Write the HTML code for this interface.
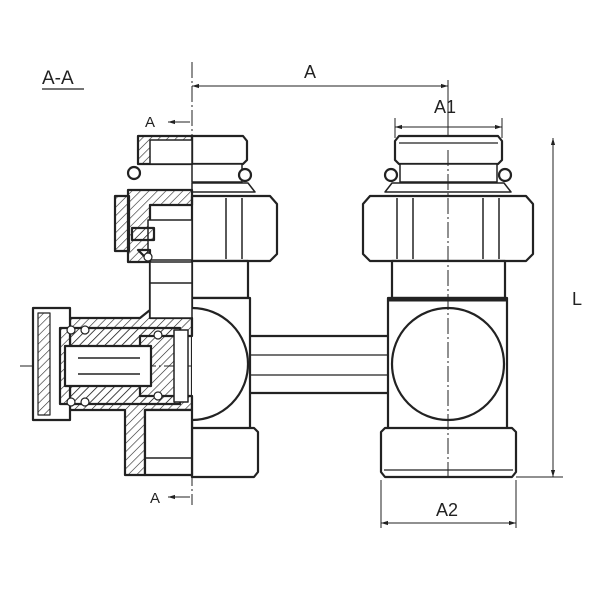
<!DOCTYPE html>
<html><head><style>html,body{margin:0;background:#fff}svg{display:block}text{font-family:"Liberation Sans",sans-serif;fill:#222}</style></head>
<body>
<svg width="600" height="600" viewBox="0 0 600 600" xmlns="http://www.w3.org/2000/svg">
<defs>
<pattern id="h" width="6" height="6" patternUnits="userSpaceOnUse" patternTransform="rotate(45)"><line x1="0" y1="0" x2="0" y2="6" stroke="#222" stroke-width="1.2"/></pattern>
<marker id="ar" viewBox="0 0 10 10" refX="10" refY="5" markerWidth="7" markerHeight="7" orient="auto-start-reverse"><path d="M0,2 L10,5 L0,8z" fill="#222"/></marker>
</defs>
<rect width="600" height="600" fill="#fff"/>
<text x="42" y="84" font-size="19">A-A</text>
<line x1="42" y1="89" x2="84" y2="89" stroke="#222" stroke-width="1.2"/>
<text x="304" y="78" font-size="18">A</text>
<text x="434" y="113" font-size="18">A1</text>
<text x="572" y="305" font-size="18">L</text>
<text x="436" y="516" font-size="18">A2</text>
<text x="145" y="127" font-size="15">A</text>
<text x="150" y="503" font-size="15">A</text>
<g stroke="#222" stroke-width="1" fill="none">
<line x1="192" y1="62" x2="192" y2="505" stroke-dasharray="16,3,2,3"/>
<line x1="192" y1="86" x2="448" y2="86" marker-start="url(#ar)" marker-end="url(#ar)"/>
<line x1="448" y1="80" x2="448" y2="150"/>
<line x1="395" y1="127" x2="502" y2="127" marker-start="url(#ar)" marker-end="url(#ar)"/>
<line x1="395" y1="118" x2="395" y2="138"/><line x1="502" y1="118" x2="502" y2="138"/>
<line x1="553" y1="138" x2="553" y2="477" marker-start="url(#ar)" marker-end="url(#ar)"/>
<line x1="516" y1="477" x2="563" y2="477"/>
<line x1="381" y1="523" x2="516" y2="523" marker-start="url(#ar)" marker-end="url(#ar)"/>
<line x1="381" y1="480" x2="381" y2="528"/><line x1="516" y1="480" x2="516" y2="528"/>
<line x1="168" y1="122" x2="190" y2="122" marker-start="url(#ar)"/>
<line x1="168" y1="497" x2="190" y2="497" marker-start="url(#ar)"/>
<line x1="20" y1="366" x2="192" y2="366" stroke-dasharray="16,3,2,3"/>
</g>
<g stroke="#222" stroke-width="2.2" fill="#fff" stroke-linejoin="round">
<rect x="246" y="336" width="146" height="57"/>
<line x1="246" y1="355" x2="392" y2="355" stroke-width="1.2"/><line x1="246" y1="375" x2="392" y2="375" stroke-width="1.2"/>
<path d="M399,136 H498 L502,141 V160 L498,164 H399 L395,160 V141Z"/>
<line x1="399" y1="143" x2="498" y2="143" stroke-width="1.2"/>
<rect x="400" y="164" width="97" height="18" stroke-width="1.5"/>
<circle cx="391" cy="175" r="6"/><circle cx="505" cy="175" r="6"/>
<path d="M385,192 L392,183 H504 L511,192Z" stroke-width="1.5"/>
<path d="M370,196 H526 L533,204 V254 L526,261 H370 L363,254 V204Z"/>
<line x1="397" y1="198" x2="397" y2="259" stroke-width="1.5"/><line x1="413" y1="198" x2="413" y2="259" stroke-width="1.5"/>
<line x1="483" y1="198" x2="483" y2="259" stroke-width="1.5"/><line x1="499" y1="198" x2="499" y2="259" stroke-width="1.5"/>
<rect x="392" y="261" width="113" height="37"/>
<rect x="388" y="298" width="119" height="131"/>
<line x1="388" y1="300" x2="507" y2="300" stroke-width="3"/>
<circle cx="448" cy="364" r="56"/>
<path d="M385,428 H512 L516,432 V472 L512,477 H385 L381,472 V432Z"/>
<line x1="384" y1="470" x2="513" y2="470" stroke-width="1.2"/>
<line x1="448" y1="150" x2="448" y2="480" stroke-width="1" stroke-dasharray="16,3,2,3"/>
<path d="M192,136 H243 L247,141 V160 L243,164 H192Z"/>
<rect x="192" y="164" width="50" height="18" stroke-width="1.5"/>
<circle cx="245" cy="175" r="6"/>
<path d="M192,183 H248 L255,192 H192Z" stroke-width="1.5"/>
<path d="M192,196 H270 L277,204 V254 L270,261 H192Z"/>
<line x1="226" y1="198" x2="226" y2="259" stroke-width="1.5"/><line x1="242" y1="198" x2="242" y2="259" stroke-width="1.5"/>
<rect x="192" y="261" width="56" height="37"/>
<rect x="192" y="298" width="58" height="131"/>
<path d="M192,308 A56,56 0 0 1 192,420" />
<path d="M192,428 H254 L258,432 V472 L254,477 H192Z"/>
<path d="M138,136 H192 V164 H138Z" fill="url(#h)"/>
<rect x="150" y="140" width="42" height="24" fill="#fff" stroke-width="1.5"/>
<circle cx="134" cy="173" r="6" fill="#fff"/>
<path d="M128,190 H192 V205 H150 V262 H128Z" fill="url(#h)"/>
<rect x="115" y="196" width="14" height="55" fill="url(#h)"/>
<rect x="148" y="220" width="44" height="40" fill="#fff" stroke-width="1.5"/>
<rect x="132" y="228" width="22" height="12" fill="url(#h)"/>
<path d="M138,250 H150 V310 L140,318 H70 V410 H125 V475 H145 V410 H192 V396 H140 V336 H192 V318 H150 V262Z" fill="url(#h)"/>
<rect x="145" y="410" width="47" height="65" fill="#fff"/>
<line x1="145" y1="458" x2="192" y2="458" stroke-width="1.5"/>
<rect x="150" y="262" width="42" height="56" fill="#fff" stroke-width="1.5"/>
<line x1="150" y1="283" x2="192" y2="283" stroke-width="1.5"/>
<rect x="33" y="308" width="37" height="112"/>
<rect x="38" y="313" width="12" height="102" fill="url(#h)" stroke-width="1.2"/>
<rect x="60" y="328" width="120" height="76" fill="url(#h)"/>
<rect x="65" y="346" width="86" height="40" fill="#fff"/>
<line x1="78" y1="358" x2="140" y2="358" stroke-width="1.5"/><line x1="78" y1="374" x2="140" y2="374" stroke-width="1.5"/>
<rect x="174" y="330" width="14" height="72" fill="#fff" stroke-width="1.5"/>
<circle cx="71" cy="330" r="4" fill="#fff" stroke-width="1.2"/><circle cx="85" cy="330" r="4" fill="#fff" stroke-width="1.2"/>
<circle cx="71" cy="402" r="4" fill="#fff" stroke-width="1.2"/><circle cx="85" cy="402" r="4" fill="#fff" stroke-width="1.2"/>
<circle cx="158" cy="335" r="4" fill="#fff" stroke-width="1.2"/><circle cx="158" cy="396" r="4" fill="#fff" stroke-width="1.2"/>
<circle cx="148" cy="257" r="4" fill="#fff" stroke-width="1.2"/>
</g>
</svg>
</body></html>
